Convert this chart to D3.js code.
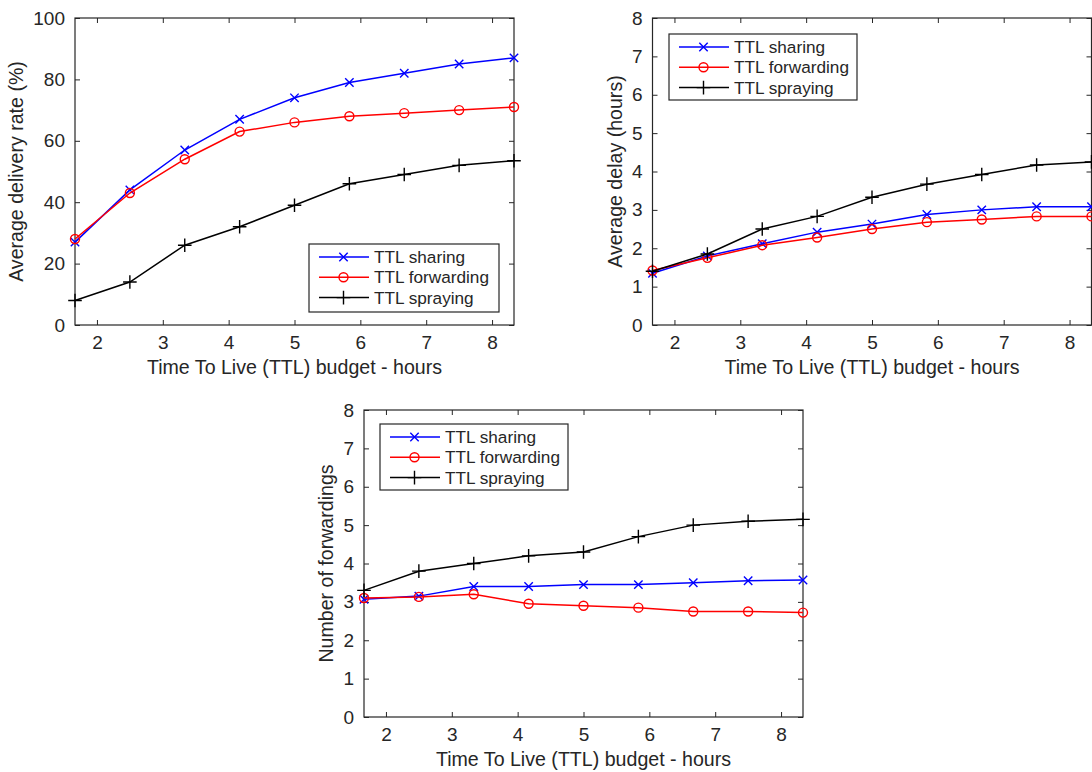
<!DOCTYPE html>
<html>
<head>
<meta charset="utf-8">
<script src="https://cdn.jsdelivr.net/npm/d3@7"></script>
<style>
  html, body { margin: 0; padding: 0; background: #fff; }
  svg { display: block; }
  text { font-family: "Liberation Sans", Arial, Helvetica, sans-serif; fill: #262626; }
</style>
</head>
<body>
<svg id="chart" width="1092" height="772"></svg>
<script>
// ---------- DATA ----------
const ttlHours = [5/3, 2.5, 10/3, 25/6, 5, 35/6, 20/3, 7.5, 25/3];
const xTicks = [2, 3, 4, 5, 6, 7, 8];
const seriesNames = ["TTL sharing", "TTL forwarding", "TTL spraying"];

const deliverySharing    = [27, 44, 57, 67, 74, 79, 82, 85, 87];
const deliveryForwarding = [28, 43, 54, 63, 66, 68, 69, 70, 71];
const deliverySpraying   = [8, 14, 26, 32, 39, 46, 49, 52, 53.5];
const deliveryTicks = [0, 20, 40, 60, 80, 100];

const delaySharing    = [1.35, 1.8, 2.12, 2.42, 2.63, 2.88, 3.0, 3.08, 3.08];
const delayForwarding = [1.42, 1.75, 2.08, 2.28, 2.5, 2.68, 2.75, 2.83, 2.83];
const delaySpraying   = [1.4, 1.85, 2.5, 2.83, 3.33, 3.67, 3.92, 4.17, 4.25];
const delayTicks = [0, 1, 2, 3, 4, 5, 6, 7, 8];

const fwdSharing    = [3.07, 3.15, 3.4, 3.4, 3.45, 3.45, 3.5, 3.55, 3.57];
const fwdForwarding = [3.1, 3.13, 3.2, 2.95, 2.9, 2.85, 2.75, 2.75, 2.72];
const fwdSpraying   = [3.3, 3.8, 4.0, 4.2, 4.3, 4.7, 5.0, 5.1, 5.15];
const fwdTicks = [0, 1, 2, 3, 4, 5, 6, 7, 8];

const xLabel = "Time To Live (TTL) budget - hours";

// ---------- STYLE ----------
const colors = ["#0000ff", "#ff0000", "#000000"];
const markers = ["x", "o", "+"];
const axisColor = "#262626";

const svg = d3.select("#chart");

function markerPath(type) {
  if (type === "x") { const s = 4.2; return `M${-s},${-s}L${s},${s}M${-s},${s}L${s},${-s}`; }
  if (type === "+") { const s = 6.8; return `M${-s},0L${s},0M0,${-s}L0,${s}`; }
  return null;
}
function drawMarker(g, type, color, x, y) {
  if (type === "o") {
    g.append("circle").attr("cx", x).attr("cy", y).attr("r", 4.5)
      .attr("fill", "none").attr("stroke", color).attr("stroke-width", 1.4);
  } else {
    g.append("path").attr("transform", `translate(${x},${y})`).attr("d", markerPath(type))
      .attr("fill", "none").attr("stroke", color).attr("stroke-width", 1.4);
  }
}

function panel(cfg) {
  const { left, top, width, height, yMax, yTicks, data, yLabel, yLabelX, legend } = cfg;
  const g = svg.append("g");
  const x = d3.scaleLinear().domain([5/3, 25/3]).range([left, left + width]);
  const y = d3.scaleLinear().domain([0, yMax]).range([top + height, top]);

  const tickLen = 5;
  const axB = d3.axisBottom(x).tickValues(xTicks).tickSize(-tickLen).tickPadding(10).tickFormat(d3.format("d"));
  const axT = d3.axisTop(x).tickValues(xTicks).tickSize(-tickLen).tickFormat("");
  const axL = d3.axisLeft(y).tickValues(yTicks).tickSize(-tickLen).tickPadding(10).tickFormat(d3.format("d"));
  const axR = d3.axisRight(y).tickValues(yTicks).tickSize(-tickLen).tickFormat("");

  const gb = g.append("g").attr("transform", `translate(0,${top + height})`).call(axB);
  const gt = g.append("g").attr("transform", `translate(0,${top})`).call(axT);
  const gl = g.append("g").attr("transform", `translate(${left},0)`).call(axL);
  const gr = g.append("g").attr("transform", `translate(${left + width},0)`).call(axR);
  [gb, gt, gl, gr].forEach(a => {
    a.select(".domain").remove();
    a.selectAll(".tick line").attr("stroke", axisColor).attr("stroke-width", 1);
    a.selectAll("text").attr("font-size", 19).attr("fill", axisColor)
      .style("font-family", "'Liberation Sans', Arial, sans-serif");
  });
  gb.selectAll("text").attr("dy", "0.71em").attr("y", 11);

  g.append("rect").attr("x", left).attr("y", top).attr("width", width).attr("height", height)
    .attr("fill", "none").attr("stroke", axisColor).attr("stroke-width", 1.2);

  const line = d3.line().x((d, i) => x(ttlHours[i])).y(d => y(d));
  data.forEach((vals, si) => {
    g.append("path").datum(vals).attr("d", line).attr("fill", "none")
      .attr("stroke", colors[si]).attr("stroke-width", 1.5);
    vals.forEach((v, i) => drawMarker(g, markers[si], colors[si], x(ttlHours[i]), y(v)));
  });

  g.append("text").attr("x", left + width / 2).attr("y", top + height + 49)
    .attr("text-anchor", "middle").attr("font-size", 19.6).text(xLabel);
  g.append("text").attr("transform", `translate(${yLabelX},${top + height / 2}) rotate(-90)`)
    .attr("text-anchor", "middle").attr("font-size", 19.6).text(yLabel);

  const lg = g.append("g").attr("transform", `translate(${legend.x},${legend.y})`);
  lg.append("rect").attr("width", legend.w).attr("height", legend.h)
    .attr("fill", "#fff").attr("stroke", axisColor).attr("stroke-width", 1.2);
  seriesNames.forEach((name, si) => {
    const ry = 13 + si * 20.3;
    lg.append("line").attr("x1", 10).attr("x2", 60).attr("y1", ry).attr("y2", ry)
      .attr("stroke", colors[si]).attr("stroke-width", 1.5);
    drawMarker(lg, markers[si], colors[si], 34.5, ry);
    lg.append("text").attr("x", 65).attr("y", ry).attr("dy", "0.36em")
      .attr("font-size", 17.2).attr("fill", "#000").text(name);
  });
}

panel({ left: 75, top: 18, width: 439, height: 307, yMax: 100, yTicks: deliveryTicks,
  data: [deliverySharing, deliveryForwarding, deliverySpraying],
  yLabel: "Average delivery rate (%)", yLabelX: 23,
  legend: { x: 309, y: 244, w: 190, h: 68 } });

panel({ left: 652.5, top: 18, width: 439, height: 307, yMax: 8, yTicks: delayTicks,
  data: [delaySharing, delayForwarding, delaySpraying],
  yLabel: "Average delay (hours)", yLabelX: 622,
  legend: { x: 669, y: 34, w: 188, h: 66 } });

panel({ left: 364, top: 410, width: 439, height: 307, yMax: 8, yTicks: fwdTicks,
  data: [fwdSharing, fwdForwarding, fwdSpraying],
  yLabel: "Number of forwardings", yLabelX: 333,
  legend: { x: 380, y: 424, w: 188, h: 66 } });
</script>
</body>
</html>
